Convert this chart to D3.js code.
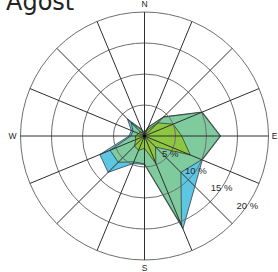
<!DOCTYPE html>
<html>
<head>
<meta charset="utf-8">
<script src="https://cdn.jsdelivr.net/npm/d3@7"></script>
<style>
  html, body { margin: 0; padding: 0; background: #fff; }
  svg { display: block; }
</style>
</head>
<body>
<svg id="chart" width="278" height="272"></svg>
<script>
const directions = ["N","NNE","NE","ENE","E","ESE","SE","SSE","S","SSW","SW","WSW","W","WNW","NW","NNW"];
// frequency (%) per speed class and direction
const seriesLow  = [0.5,1.0,3.0,5.0,6.0,8.0,2.5,4.8,2.0,2.5,2.3,1.5,1.5,1.0,1.0,0.5];
const seriesMid  = [0.0,0.5,1.3,5.0,6.2,2.0,5.8,10.8,2.5,2.0,3.7,4.5,0.7,1.0,2.0,0.5];
const seriesHigh = [0.1,0.1,0.1,0.1,0.1,0.1,3.2,0.6,0.1,0.3,2.3,1.8,0.3,0.3,0.9,0.2];
const seriesNames = ["low","mid","high"];
const seriesColors = ["#8dc641","#7fcb9e","#5cc6e3"];
const ringTicks = [5,10,15,20];
const ringLabels = ["5 %","10 %","15 %","20 %"];
const compass = ["N","E","S","W"];
const title = "Agost";

const svg = d3.select("#chart");
const cx = 144.5, cy = 136, R = 124;
const r = d3.scaleLinear().domain([0,20]).range([0,R]);
const ang = d3.scaleLinear().domain([0,directions.length]).range([0,2*Math.PI]);

const table = directions.map((d,i)=>({dir:d, low:seriesLow[i], mid:seriesMid[i], high:seriesHigh[i]}));
const stacked = d3.stack().keys(seriesNames)(table);

svg.append("text").attr("x",6).attr("y",10)
  .attr("font-family","DejaVu Sans").attr("font-size",24).attr("fill","#222").text(title);

const g = svg.append("g").attr("transform",`translate(${cx},${cy})`);

const line = d3.lineRadial()
  .angle((d,i)=>ang(i))
  .radius(d=>r(d[1]))
  .curve(d3.curveLinearClosed);

// draw outer (cumulative) first
for (let k = stacked.length-1; k >= 0; k--) {
  g.append("path").datum(stacked[k])
    .attr("d", line)
    .attr("fill", seriesColors[k])
    .attr("stroke", "#2a2a2a")
    .attr("stroke-width", 0.7)
    .attr("stroke-linejoin","round");
}

// grid
g.selectAll("circle.ring").data(ringTicks).join("circle")
  .attr("class","ring").attr("r",d=>r(d))
  .attr("fill","none").attr("stroke","#6e6e6e").attr("stroke-width",1);

g.selectAll("line.spoke").data(directions).join("line")
  .attr("class","spoke")
  .attr("x1",0).attr("y1",0)
  .attr("x2",(d,i)=>R*Math.sin(ang(i)))
  .attr("y2",(d,i)=>-R*Math.cos(ang(i)))
  .attr("stroke","#2e2e2e").attr("stroke-width",1);

g.append("circle").attr("r",1.6).attr("fill","#000");

// ring labels
const labAng = 124*Math.PI/180;
g.selectAll("text.rl").data(ringTicks).join("text")
  .attr("class","rl")
  .attr("x",d=>r(d)*Math.sin(labAng))
  .attr("y",d=>-r(d)*Math.cos(labAng))
  .attr("dy","0.35em")
  .attr("text-anchor","middle")
  .attr("font-family","Liberation Sans, Arial, sans-serif")
  .attr("font-size",9.5).attr("fill","#2a2a2a")
  .text((d,i)=>ringLabels[i]);

// compass labels
const cpos = [[0,-R-8],[R+6,0],[0,R+8],[-R-8,0]];
g.selectAll("text.cp").data(compass).join("text")
  .attr("class","cp")
  .attr("x",(d,i)=>cpos[i][0]).attr("y",(d,i)=>cpos[i][1])
  .attr("dy","0.35em").attr("text-anchor","middle")
  .attr("font-family","Liberation Sans, Arial, sans-serif")
  .attr("font-size",8.5).attr("fill","#222")
  .text(d=>d);
</script>
</body>
</html>
